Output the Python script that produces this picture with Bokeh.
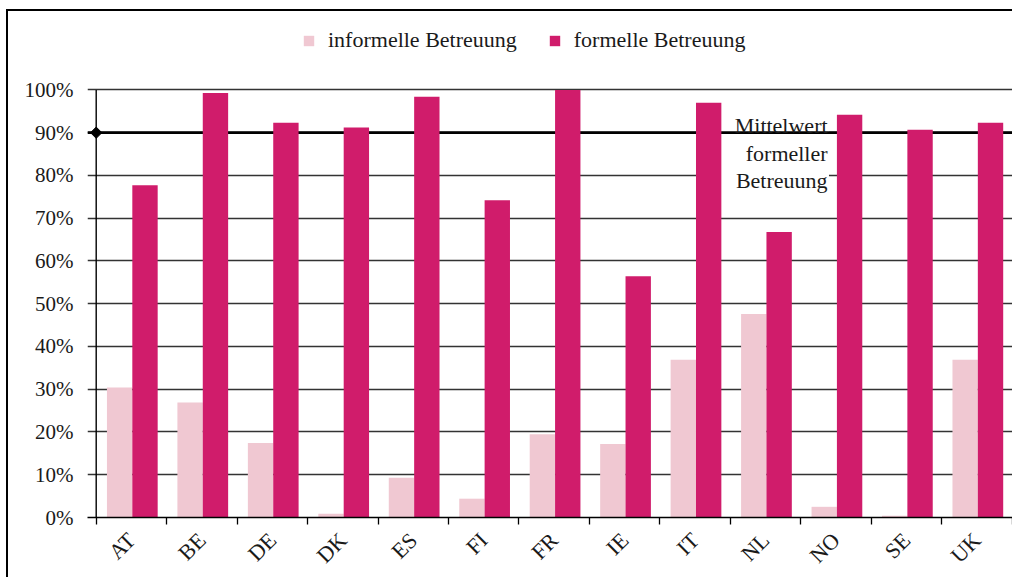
import math
from bokeh.plotting import figure
from bokeh.models import (Range1d, FixedTicker, Span, Label, BoxAnnotation,
                          Legend, LegendItem, ColumnDataSource)
from bokeh.embed import file_html
from bokeh.resources import INLINE

# ---- data -------------------------------------------------------------
countries = ["AT", "BE", "DE", "DK", "ES", "FI", "FR", "IE", "IT", "NL", "NO", "SE", "UK"]
informell = [30.4, 26.9, 17.4, 0.9, 9.3, 4.4, 19.5, 17.2, 36.9, 47.6, 2.5, 0.4, 36.9]
formell = [77.7, 99.3, 92.3, 91.2, 98.4, 74.2, 100.0, 56.4, 97.0, 66.8, 94.2, 90.7, 92.3]
mittelwert_formell = 90
y_ticks = list(range(0, 101, 10))
y_tick_labels = [f"{t}%" for t in y_ticks]
series_names = ["informelle Betreuung", "formelle Betreuung"]
annotation_lines = ["Mittelwert", "formeller", "Betreuung"]

# ---- style ------------------------------------------------------------
FONT = "Liberation Serif"
C_INF = "#F0C8D2"
C_FOR = "#D01C6B"
TXT = "#1a1a1a"
BAR_W = 0.36

n = len(countries)
idx = list(range(n))
x_axis_pos = -0.5            # left edge of the first category = value axis
src = ColumnDataSource(dict(
    x_inf=[i - 0.1675 for i in idx],
    x_for=[i + 0.1925 for i in idx],
    informell=informell,
    formell=formell,
    country=countries,
))

p = figure(width=1006, height=568,
           x_range=Range1d(-0.6235, n - 0.4955), y_range=Range1d(0, 116.24),
           output_backend="svg", toolbar_location=None,
           min_border_left=79, min_border_right=2, min_border_top=9, min_border_bottom=58)
p.styles = {"margin-left": "6px", "margin-top": "9px",
            "border-top": "2px solid black", "border-left": "2px solid black"}
p.outline_line_color = None
p.background_fill_color = "white"
p.border_fill_color = "white"

# grid (its left stubs act as the value-axis tick marks)
p.xgrid.visible = False
p.ygrid.ticker = FixedTicker(ticks=y_ticks)
p.ygrid.grid_line_color = "#333333"
p.ygrid.grid_line_width = 1.5

# white box behind the annotation text (hides grid lines)
p.add_layout(BoxAnnotation(left=8.3, right=9.9, top=97, bottom=77,
                           fill_color="white", fill_alpha=1.0, line_color=None,
                           level="underlay"))

# mean line (behind bars)
p.add_layout(Span(location=mittelwert_formell, dimension="width",
                  line_color="black", line_width=2.7, level="underlay"))

r_inf = p.vbar(x="x_inf", top="informell", width=BAR_W, bottom=0, source=src,
               fill_color=C_INF, line_color=None)
r_for = p.vbar(x="x_for", top="formell", width=BAR_W, bottom=0, source=src,
               fill_color=C_FOR, line_color=None)

# value axis line
p.segment(x0=[x_axis_pos], y0=[y_ticks[0]], x1=[x_axis_pos], y1=[y_ticks[-1]],
          line_color="black", line_width=1.4)

# diamond marker of the mean line on the value axis
p.scatter(x=[x_axis_pos], y=[mittelwert_formell], marker="square", angle=math.pi / 4,
          size=8, fill_color="black", line_color="black")

# y axis (labels only)
p.yaxis.ticker = FixedTicker(ticks=y_ticks, minor_ticks=[])
p.yaxis.major_label_overrides = {t: l for t, l in zip(y_ticks, y_tick_labels)}
p.yaxis.axis_line_color = None
p.yaxis.major_tick_line_color = None
p.yaxis.minor_tick_line_color = None
p.yaxis.major_tick_out = 0
p.yaxis.major_tick_in = 0
p.yaxis.major_label_standoff = 14
p.yaxis.major_label_text_font = FONT
p.yaxis.major_label_text_font_size = "21px"
p.yaxis.major_label_text_color = TXT

# x axis
p.xaxis.ticker = FixedTicker(ticks=idx, minor_ticks=[i - 0.5 for i in range(n + 1)])
p.xaxis.major_label_overrides = {i: c for i, c in zip(idx, countries)}
p.xaxis.major_label_orientation = math.pi / 4
p.xaxis.axis_line_color = "black"
p.xaxis.axis_line_width = 1.3
p.xaxis.major_tick_line_color = None
p.xaxis.minor_tick_line_color = "black"
p.xaxis.minor_tick_line_width = 1.3
p.xaxis.minor_tick_out = 7
p.xaxis.minor_tick_in = 0
p.xaxis.major_label_standoff = 12
p.xaxis.major_label_text_font = FONT
p.xaxis.major_label_text_font_size = "22px"
p.xaxis.major_label_text_color = TXT

# annotation text
for txt, yy in zip(annotation_lines, [91.6, 85.1, 78.9]):
    p.add_layout(Label(x=9.88, y=yy, text=txt, text_align="right",
                       text_baseline="alphabetic", text_font=FONT,
                       text_font_size="22px", text_color=TXT))

# legend
legend = Legend(items=[LegendItem(label=series_names[0], renderers=[r_inf]),
                       LegendItem(label=series_names[1], renderers=[r_for])],
                orientation="horizontal", location=(215, 464),
                glyph_width=13, glyph_height=13, label_standoff=13, spacing=31,
                padding=0, margin=0, border_line_color=None, background_fill_alpha=0,
                label_text_font=FONT, label_text_font_size="22px",
                label_text_color=TXT)
p.add_layout(legend)

open("out.html", "w").write(file_html(p, INLINE))
